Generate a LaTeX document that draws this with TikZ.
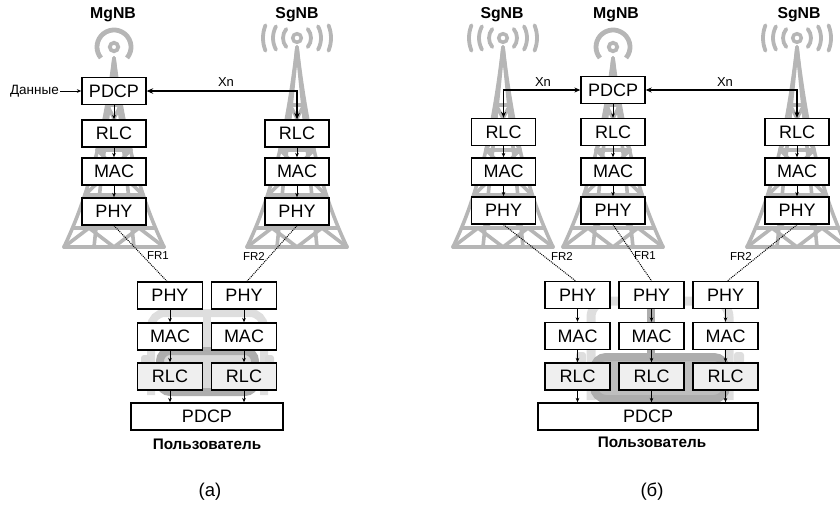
\documentclass[tikz,border=0pt]{standalone}
\usepackage{fontspec}
\setmainfont{Liberation Sans}
\usetikzlibrary{arrows.meta}

\definecolor{mastgray}{HTML}{B6B6B6}
\definecolor{roofgray}{HTML}{DEDEDE}
\definecolor{bodygray}{HTML}{ADADAD}
\definecolor{cabina}{HTML}{DADADA}
\definecolor{cabinb}{HTML}{BEBEBE}
\definecolor{rlcfill}{HTML}{EFEFEF}

\tikzset{
  layer/.style={draw, line width=1.3pt, fill=white, minimum width=64pt,
    minimum height=27pt, inner sep=0pt, font=\fontsize{18pt}{20pt}\selectfont},
  ulayer/.style={layer, minimum width=65pt},
  urlc/.style={ulayer, fill=rlcfill},
  mast/.style={draw=mastgray, line width=3.6pt, line cap=round, line join=round},
  flow/.style={line width=0.8pt, -{Stealth[length=4.5pt,width=3.6pt]}},
  xn/.style={line width=1.7pt, {Stealth[length=6.5pt,width=5.5pt]}-{Stealth[length=6.5pt,width=5.5pt]}},
  xnthin/.style={line width=1.2pt, {Stealth[length=6pt,width=5pt]}-{Stealth[length=6pt,width=5pt]}},
  radio/.style={densely dotted, line width=1pt},
  frlabel/.style={font=\fontsize{11.5pt}{13pt}\selectfont, inner sep=1pt},
  xnlabel/.style={font=\fontsize{13pt}{15pt}\selectfont, inner sep=1pt},
  station/.style={font=\bfseries\fontsize{15.8pt}{18pt}\selectfont},
  userlabel/.style={font=\bfseries\fontsize{15.3pt}{17pt}\selectfont},
  caption/.style={font=\fontsize{18.5pt}{21pt}\selectfont},
}

% lattice mast: #1 = centre x, #2 = apex y
\newcommand{\mastframe}[2]{%
  \begin{scope}[shift={(#1,0)}]
    \draw[mast] (0,#2) .. controls (-12,150) and (-30,205) .. (-50,247);
    \draw[mast] (0,#2) .. controls (12,150) and (30,205) .. (50,247);
    \draw[mast] (0,#2) -- (-20,247) (0,#2) -- (20,247);
    \draw[mast] (-7,105) -- (7,105) (-17,150) -- (17,150)
                (-29,195) -- (29,195) (-41,228) -- (41,228) (-50,247) -- (50,247);
    \draw[mast] (-7,105) -- (17,150) (7,105) -- (-17,150);
    \draw[mast] (-17,150) -- (29,195) (17,150) -- (-29,195);
    \draw[mast] (-29,195) -- (20,228) (29,195) -- (-20,228);
    \draw[mast] (-50,247) -- (-25,228) -- (0,247) -- (25,228) -- (50,247);
  \end{scope}}

% master antenna: ring with one wide arc
\newcommand{\masterantenna}[1]{%
  \draw[mastgray, line width=3.8pt] (#1,47) circle[radius=4.2pt];
  \draw[mastgray, line width=4.8pt] (#1,47) ++(-40:17pt) arc[start angle=-40, end angle=220, radius=17pt];}

% secondary antenna: ring with three arcs on each side
\newcommand{\secondaryantenna}[1]{%
  \draw[mastgray, line width=3.5pt] (#1,38) circle[radius=4.3pt];
  \foreach \r/\a in {14/40, 24/29, 34/22}{
    \draw[mastgray, line width=3.8pt, line cap=round] (#1,38) ++(-\a:\r pt) arc[start angle=-\a, end angle=\a, radius=\r pt];
    \draw[mastgray, line width=3.8pt, line cap=round] (#1,38) ++(180-\a:\r pt) arc[start angle=180-\a, end angle=180+\a, radius=\r pt];
  }}

\begin{document}
\begin{tikzpicture}[x=1pt,y=-1pt]
\useasboundingbox (0,0) rectangle (840,506);

% ---------- masts and antennas ----------
\mastframe{114}{58}   \masterantenna{114}
\mastframe{297}{47}   \secondaryantenna{297}
\mastframe{503}{47}   \secondaryantenna{503}
\mastframe{613}{58}   \masterantenna{613}
\mastframe{797}{47}   \secondaryantenna{797}

% ---------- vehicle silhouettes behind the terminal stacks ----------
% left terminal
\draw[roofgray, line width=8pt, rounded corners=14pt] (151,395) -- (151,313) -- (264,313) -- (264,395);
\draw[roofgray, line width=8pt] (207,313) -- (207,350);
\fill[cabina, rounded corners=3pt] (141,355) rectangle (150,366);
\fill[cabina, rounded corners=3pt] (265,355) rectangle (274,366);
\draw[bodygray, fill=cabina, line width=8pt, rounded corners=10pt] (160,351) rectangle (255,392);
% right terminal
\draw[roofgray, line width=9pt, rounded corners=16pt] (591,400) -- (591,301) -- (729,301) -- (729,400);
\fill[roofgray, rounded corners=3pt] (576,352) rectangle (586,364);
\fill[roofgray, rounded corners=3pt] (734,352) rectangle (744,364);
\draw[bodygray, line width=8pt] (651,301) -- (651,357);
\draw[bodygray, fill=cabinb, line width=8pt, rounded corners=12pt] (594,357) rectangle (726,399);

% ---------- panel (a) ----------
\node[station] (mgA) at (113,15) {MgNB};
\node[station] (sgA) at (297,15) {SgNB};

\node[layer] (pdcpA) at (114,91)    {PDCP};
\node[layer] (rlcA)  at (114,133.5) {RLC};
\node[layer] (macA)  at (114,171.5) {MAC};
\node[layer] (phyA)  at (114,211.5) {PHY};

\node[layer] (rlcSA) at (297,133.5) {RLC};
\node[layer] (macSA) at (297,171.5) {MAC};
\node[layer] (phySA) at (297,211.5) {PHY};

\node[font=\fontsize{13.5pt}{15pt}\selectfont, anchor=east, inner sep=1pt] (dataA) at (60,91) {Данные};

\node[ulayer] (uphyA1) at (170,295.5) {PHY};
\node[ulayer] (uphyA2) at (244,295.5) {PHY};
\node[ulayer] (umacA1) at (170,336.5) {MAC};
\node[ulayer] (umacA2) at (244,336.5) {MAC};
\node[urlc]   (urlcA1) at (170,376.5) {RLC};
\node[urlc]   (urlcA2) at (244,376.5) {RLC};
\node[layer, minimum width=152pt] (updcpA) at (207,416.5) {PDCP};
\node[userlabel] (userA) at (207,444) {Пользователь};

\draw[flow] (dataA.east) -- (pdcpA.west);
\draw[flow] (pdcpA) -- (rlcA);
\draw[flow] (rlcA) -- (macA);
\draw[flow] (macA) -- (phyA);
\draw[flow] (rlcSA) -- (macSA);
\draw[flow] (macSA) -- (phySA);
\draw[xn] (pdcpA.east) -| (rlcSA.north);
\node[xnlabel] at (226,82) {Xn};

\draw[flow] (uphyA1) -- (umacA1);
\draw[flow] (uphyA2) -- (umacA2);
\draw[flow] (umacA1) -- (urlcA1);
\draw[flow] (umacA2) -- (urlcA2);
\draw[flow] (urlcA1.south) -- (urlcA1.south |- updcpA.north);
\draw[flow] (urlcA2.south) -- (urlcA2.south |- updcpA.north);

\draw[radio] (phyA.south) -- ([xshift=-3pt]uphyA1.north);
\draw[radio] (phySA.south) -- ([xshift=3pt]uphyA2.north);
\node[frlabel] at (158,256) {FR1};
\node[frlabel] at (254,256) {FR2};

\node[caption] (capA) at (210,492) {(а)};

% ---------- panel (b) ----------
\node[station] (sgB1) at (502,15) {SgNB};
\node[station] (mgB)  at (616,15) {MgNB};
\node[station] (sgB2) at (799,15) {SgNB};

\node[layer] (pdcpB)  at (613,90)  {PDCP};
\node[layer] (rlcB)   at (613,132) {RLC};
\node[layer] (macB)   at (613,171.5) {MAC};
\node[layer] (phyB)   at (613,210.5) {PHY};

\node[layer] (rlcBL)  at (503.5,132) {RLC};
\node[layer] (macBL)  at (503.5,171.5) {MAC};
\node[layer] (phyBL)  at (503.5,210.5) {PHY};

\node[layer] (rlcBR)  at (797,132) {RLC};
\node[layer] (macBR)  at (797,171.5) {MAC};
\node[layer] (phyBR)  at (797,210.5) {PHY};

\node[ulayer] (uphyB1) at (577.5,295) {PHY};
\node[ulayer] (uphyB2) at (651.5,295) {PHY};
\node[ulayer] (uphyB3) at (725.5,295) {PHY};
\node[ulayer] (umacB1) at (577.5,336) {MAC};
\node[ulayer] (umacB2) at (651.5,336) {MAC};
\node[ulayer] (umacB3) at (725.5,336) {MAC};
\node[urlc]   (urlcB1) at (577.5,376.5) {RLC};
\node[urlc]   (urlcB2) at (651.5,376.5) {RLC};
\node[urlc]   (urlcB3) at (725.5,376.5) {RLC};
\node[layer, minimum width=220pt] (updcpB) at (648,416.5) {PDCP};
\node[userlabel] (userB) at (652,442) {Пользователь};

\draw[flow] (pdcpB) -- (rlcB);
\draw[flow] (rlcB) -- (macB);
\draw[flow] (macB) -- (phyB);
\draw[flow] (rlcBL) -- (macBL);
\draw[flow] (macBL) -- (phyBL);
\draw[flow] (rlcBR) -- (macBR);
\draw[flow] (macBR) -- (phyBR);
\draw[xnthin] (pdcpB.west) -| (rlcBL.north);
\draw[xnthin] (pdcpB.east) -| (rlcBR.north);
\node[xnlabel] at (543,82) {Xn};
\node[xnlabel] at (725,82) {Xn};

\foreach \c in {1,2,3}{
  \draw[flow] (uphyB\c) -- (umacB\c);
  \draw[flow] (umacB\c) -- (urlcB\c);
  \draw[flow] (urlcB\c.south) -- (urlcB\c.south |- updcpB.north);
}

\draw[radio] (phyBL.south) -- ([xshift=-2pt]uphyB1.north);
\draw[radio] (phyB.south) -- (uphyB2.north);
\draw[radio] (phyBR.south) -- ([xshift=2pt]uphyB3.north);
\node[frlabel] at (562,256) {FR2};
\node[frlabel] at (645,256) {FR1};
\node[frlabel] at (741,256) {FR2};

\node[caption] (capB) at (652,492) {(б)};
\end{tikzpicture}
\end{document}
